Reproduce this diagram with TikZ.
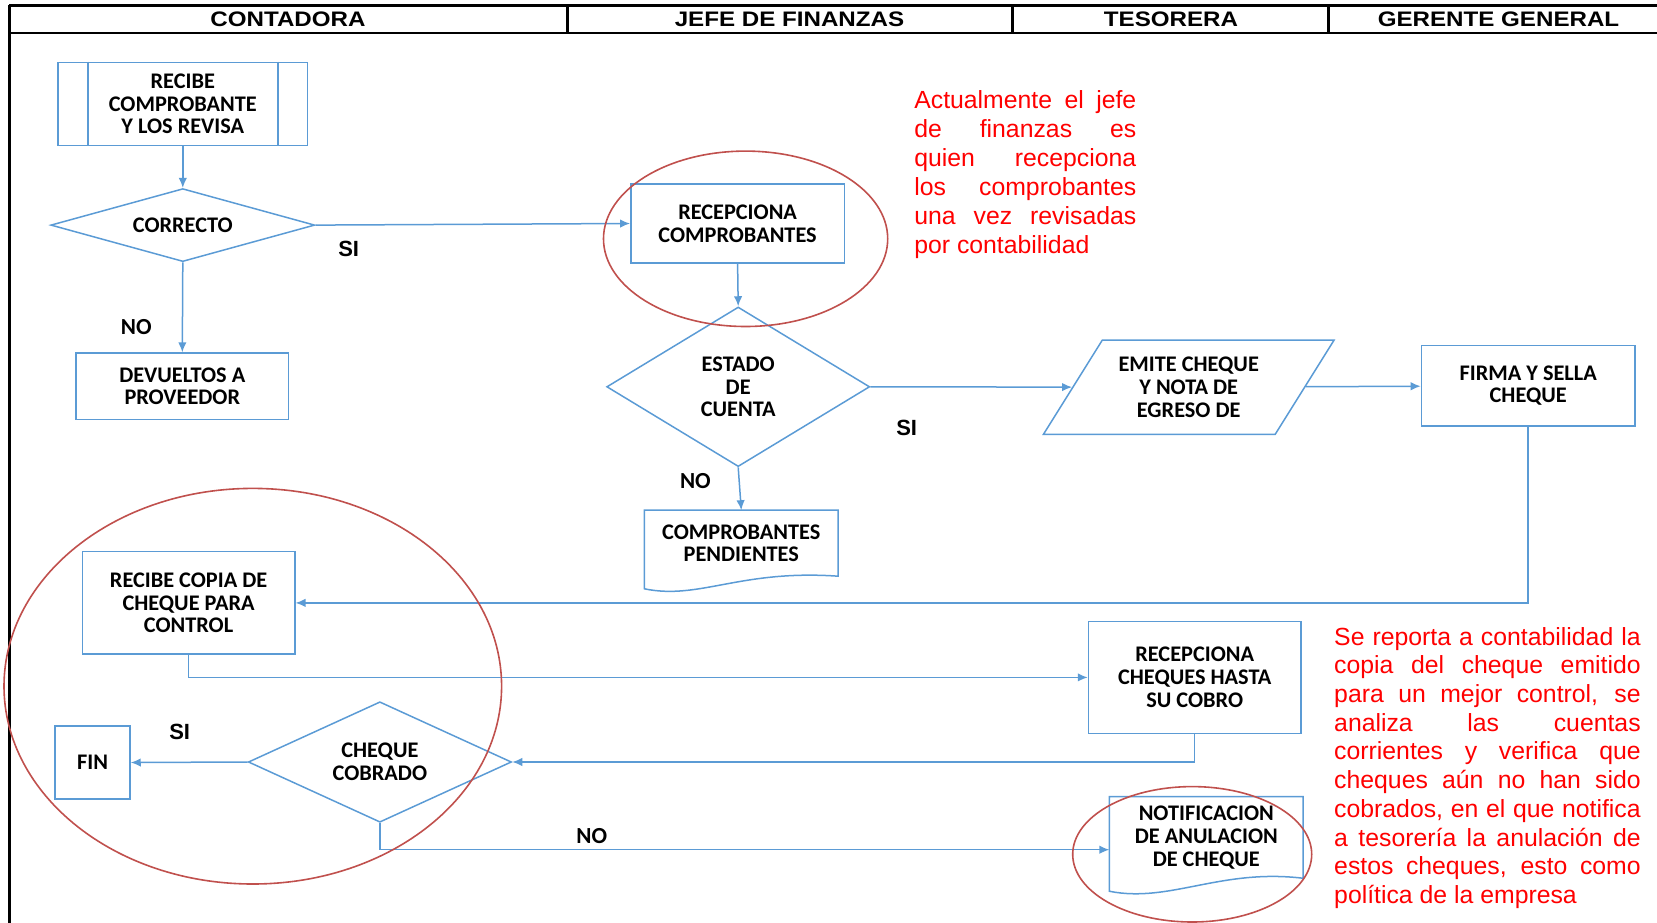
\documentclass[tikz,border=0pt]{standalone}
\usepackage{fontspec}
\setmainfont{Carlito}
\newfontfamily\arial{Liberation Sans}
\newfontfamily\encab[FakeStretch=1.15]{Liberation Sans}
\usetikzlibrary{shapes.geometric,arrows.meta}
\definecolor{azul}{RGB}{91,155,213}
\definecolor{rojizo}{RGB}{192,80,77}
\setlength{\parindent}{0pt}

\begin{document}
\begin{tikzpicture}[x=1pt,y=-1pt,
	caja/.style={draw=azul,line width=1.5pt,inner sep=0pt,align=center,font={\fontsize{22.3}{22.7}\selectfont\bfseries}},
	rombo/.style={diamond,draw=azul,line width=1.5pt,inner sep=0pt,aspect=2,align=center,font={\fontsize{22.3}{22.7}\selectfont\bfseries}},
	paralelo/.style={trapezium,trapezium left angle=58,trapezium right angle=122,trapezium stretches body,draw=azul,line width=1.5pt,inner xsep=0pt,inner ysep=17pt,align=center,font={\fontsize{22.3}{22.7}\selectfont\bfseries}},
	hoja/.style={inner sep=0pt,align=center,font={\fontsize{22.3}{22.7}\selectfont\bfseries}},
	linea/.style={draw=azul,line width=1.5pt},
	flecha/.style={draw=azul,line width=1.5pt,-{Latex[length=10pt,width=8.5pt]}},
	marca/.style={draw=rojizo,line width=1.6pt},
	si/.style={inner sep=0pt,font={\arial\fontsize{22}{24}\selectfont\bfseries}},
	no/.style={inner sep=0pt,font={\fontsize{23}{25}\selectfont\bfseries}},
	nota/.style={inner sep=0pt,anchor=north west,text=red,align=justify,font={\arial\fontsize{24.8}{29}\selectfont}},
	titulo/.style={inner sep=0pt,font={\encab\fontsize{21}{22}\selectfont\bfseries}},
	negra/.style={draw=black,line width=2.8pt}]
\useasboundingbox (0,0) rectangle (1657,923);

% encabezado
\draw[negra] (9,5.5) -- (1657,5.5);
\draw[negra] (9,33) -- (1657,33);
\draw[negra] (9.5,5.5) -- (9.5,923);
\foreach \x in {567.5,1012.4,1328.4}
	\draw[negra] (\x,5.5) -- (\x,33);
\node[titulo] (t1) at (288,19.5) {CONTADORA};
\node[titulo] (t2) at (789.5,19.5) {JEFE DE FINANZAS};
\node[titulo] (t3) at (1171,19.5) {TESORERA};
\node[titulo] (t4) at (1498.5,19.5) {GERENTE GENERAL};

% nodos
\node[caja,minimum width=249.5,minimum height=83.4] (recibe) at (182.8,104) {RECIBE\\COMPROBANTE\\Y LOS REVISA};
\draw[linea] ([xshift=30.5pt]recibe.north west) -- ([xshift=30.5pt]recibe.south west);
\draw[linea] ([xshift=-30.5pt]recibe.north east) -- ([xshift=-30.5pt]recibe.south east);
\node[rombo,minimum width=264,minimum height=73] (correcto) at (182.8,225.1) {CORRECTO};
\node[caja,minimum width=212.4,minimum height=66.5] (devueltos) at (182.3,386.3) {DEVUELTOS A\\PROVEEDOR};
\node[caja,minimum width=213.5,minimum height=79.2] (recep) at (737.6,223.5) {RECEPCIONA\\COMPROBANTES};
\node[rombo,minimum width=263,minimum height=159.6] (estado) at (738.2,386.8) {ESTADO\\DE\\CUENTA};
\node[hoja,minimum width=193.4,minimum height=65.6] (pend) at (741.3,543.2) {COMPROBANTES\\PENDIENTES};
\draw[linea] (pend.north west) -- (pend.north east) -- (pend.south east)
	.. controls +(-98,-7) and +(55,11.4) .. ([yshift=-12.6pt]pend.south west) -- cycle;
\node[paralelo,minimum width=290.6,minimum height=94] (emite) at (1188.7,387.3) {EMITE CHEQUE\\Y NOTA DE\\EGRESO DE};
\node[caja,minimum width=213.5,minimum height=80.3] (firma) at (1528.2,385.7) {FIRMA Y SELLA\\CHEQUE};
\node[caja,minimum width=212.4,minimum height=102.5] (copia) at (188.6,602.9) {RECIBE COPIA DE\\CHEQUE PARA\\CONTROL};
\node[caja,minimum width=212.4,minimum height=112] (recheq) at (1194.7,677.4) {RECEPCIONA\\CHEQUES HASTA\\SU COBRO};
\node[rombo,minimum width=263.2,minimum height=120.5] (cobrado) at (379.9,762) {CHEQUE\\COBRADO};
\node[caja,minimum width=75,minimum height=73] (fin) at (92.5,762.5) {FIN};
\node[hoja,minimum width=193.4,minimum height=81.3] (notif) at (1206.3,837.4) {NOTIFICACION\\DE ANULACION\\DE CHEQUE};
\draw[linea] (notif.north west) -- (notif.north east) -- (notif.south east)
	.. controls +(-83,-10) and +(60,12) .. ([yshift=-13pt]notif.south west) -- cycle;

% conectores
\draw[flecha] (recibe) -- (correcto);
\draw[flecha] (correcto.south) -- (devueltos.north);
\draw[flecha] (correcto.east) -- (recep.west);
\draw[flecha] (recep.south) -- (estado.north);
\draw[flecha] (estado.south) -- (pend.north);
\draw[flecha] (estado.east) -- (emite);
\draw[flecha] (emite) -- (firma);
\draw[flecha] (firma.south) |- (copia.east);
\draw[flecha] (copia.south) |- (recheq.west);
\draw[flecha] (recheq.south) |- (cobrado.east);
\draw[flecha] (cobrado.west) -- (fin.east);
\draw[flecha] (cobrado.south) |- ([yshift=-12.3pt]notif.west);

% etiquetas
\node[si] (si1) at (348.7,249.4) {SI};
\node[no] (no1) at (136.3,326.6) {NO};
\node[si] (si2) at (906.7,428) {SI};
\node[no] (no2) at (695.4,480.8) {NO};
\node[si] (si3) at (179.7,732.4) {SI};
\node[no] (no3) at (591.8,836) {NO};

% marcas rojas
\draw[marca] (745.6,238.8) ellipse [x radius=142.1pt, y radius=87.7pt];
\draw[marca] (252.8,686.2) ellipse [x radius=248.8pt, y radius=197.8pt];
\draw[marca] (1192.2,854.3) ellipse [x radius=119.5pt, y radius=67.7pt];

% notas
\node[nota,text width=222pt] (nota1) at (914.1,90.5) {Actualmente el jefe\linebreak de finanzas es\linebreak quien recepciona\linebreak los comprobantes\linebreak una vez revisadas\linebreak por contabilidad};
\node[nota,text width=306.5pt,font={\arial\fontsize{24.8}{28.7}\selectfont}] (nota2) at (1334,627) {Se reporta a contabilidad la\linebreak copia del cheque emitido\linebreak para un mejor control, se\linebreak analiza las cuentas\linebreak corrientes y verifica que\linebreak cheques aún no han sido\linebreak cobrados, en el que notifica\linebreak a tesorería la anulación de\linebreak estos cheques, esto como\linebreak política de la empresa};
\end{tikzpicture}
\end{document}
